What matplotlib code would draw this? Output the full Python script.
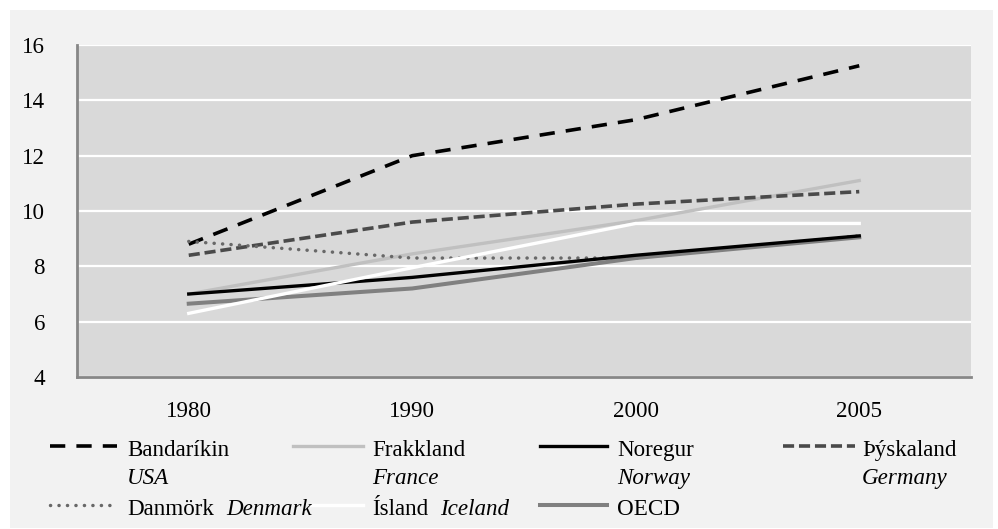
import matplotlib
matplotlib.use('Agg')
import matplotlib.pyplot as plt
from matplotlib.lines import Line2D
from matplotlib.patches import Rectangle

plt.rcParams['font.family'] = ['Liberation Serif', 'DejaVu Serif']
plt.rcParams['lines.scale_dashes'] = False

# ---- data ----
years = ['1980', '1990', '2000', '2005']
usa = [8.8, 12.0, 13.3, 15.25]
france = [7.0, 8.45, 9.65, 11.1]
norway = [7.0, 7.6, 8.4, 9.1]
germany = [8.4, 9.6, 10.25, 10.7]
denmark = [8.9, 8.3, 8.3, 9.1]
iceland = [6.3, 7.95, 9.55, 9.55]
oecd = [6.65, 7.2, 8.3, 9.05]
names_is = ['Bandaríkin', 'Frakkland', 'Noregur', 'Þýskaland', 'Danmörk', 'Ísland', 'OECD']
names_en = ['USA', 'France', 'Norway', 'Germany', 'Denmark', 'Iceland', '']
yticks = [4, 6, 8, 10, 12, 14, 16]

W, H = 998, 529
DPI = 100
fig = plt.figure(figsize=(W / DPI, H / DPI), dpi=DPI, facecolor='white')

def fx(px):
    return px / W

def fy(py):
    return 1 - py / H

# outer panel
fig.patches.append(Rectangle((fx(10), fy(528)), fx(993) - fx(10), fy(10) - fy(528),
                             transform=fig.transFigure, facecolor='#f2f2f2',
                             edgecolor='none', zorder=-10))

ax = fig.add_axes([fx(77), fy(377), fx(971) - fx(77), fy(45) - fy(377)])
ax.set_facecolor('#d9d9d9')

styles = [
    dict(color='black', lw=2.6, dashes=(11, 8), solid_capstyle='butt'),            # USA
    dict(color='#c0c0c0', lw=2.4, linestyle='-'),                                    # France
    dict(color='black', lw=2.4, linestyle='-'),                                      # Norway
    dict(color='#4a4a4a', lw=2.6, dashes=(8, 3.5)),                                  # Germany
    dict(color='#686868', lw=2.5, dashes=(0.1, 6.0), dash_capstyle='round'),         # Denmark
    dict(color='white', lw=2.4, linestyle='-'),                                      # Iceland
    dict(color='#808080', lw=2.9, linestyle='-'),                                    # OECD
]
series = [usa, france, norway, germany, denmark, iceland, oecd]
x = list(range(len(years)))
zorders = [3, 2, 5, 3, 4, 6, 4]
for s, st, z in zip(series, styles, zorders):
    ax.plot(x, s, zorder=z, **st)

fs = 16.6
ax.set_xlim(-0.5, len(years) - 0.5)
ax.set_ylim(4, 16)
ax.set_yticks(yticks)
ax.set_yticklabels([str(v) for v in yticks])
ax.set_xticks(x)
ax.set_xticklabels(years)
ax.tick_params(axis='both', length=0, labelsize=fs, colors='black')
ax.tick_params(axis='y', pad=23)
ax.tick_params(axis='x', pad=17)
ax.grid(axis='y', color='white', lw=1.6)
ax.set_axisbelow(True)
for sp in ['top', 'right']:
    ax.spines[sp].set_visible(False)
for sp in ['left', 'bottom']:
    ax.spines[sp].set_color('#878787')
    ax.spines[sp].set_linewidth(2.0)
    ax.spines[sp].set_zorder(1)

# ---- legend (manual) ----
handle_x = [(50, 117), (293, 363), (540, 607), (783, 855), (50, 117), (310, 363), (540, 607)]
text_x = [127, 372, 617, 862, 127, 372, 617]
row_handle_y = [446, 446, 446, 446, 505, 505, 505]
row_base_y = [456, 456, 456, 456, 515, 515, 515]
second_base_y = 484

fig.canvas.draw()
renderer = fig.canvas.get_renderer()
for i in range(7):
    x0, x1 = handle_x[i]
    st = dict(styles[i])
    ln = Line2D([fx(x0), fx(x1)], [fy(row_handle_y[i])] * 2, transform=fig.transFigure, **st)
    fig.add_artist(ln)
    t = fig.text(fx(text_x[i]), fy(row_base_y[i]), names_is[i], fontsize=fs,
                 va='baseline', ha='left')
    if names_en[i]:
        if i < 4:
            fig.text(fx(text_x[i]), fy(second_base_y), names_en[i], fontsize=fs,
                     style='italic', va='baseline', ha='left')
        else:
            bb = t.get_window_extent(renderer=renderer)
            fig.text((bb.x1 + 12) / W, fy(row_base_y[i]), names_en[i], fontsize=fs,
                     style='italic', va='baseline', ha='left')

fig.savefig('out.png', dpi=DPI, facecolor='white')
